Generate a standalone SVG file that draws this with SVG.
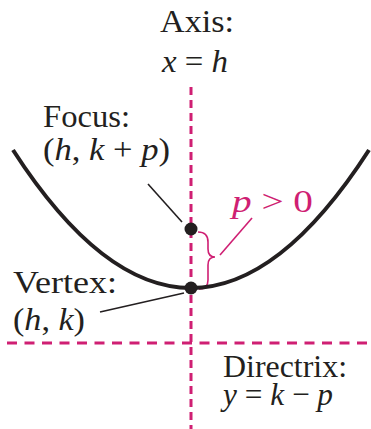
<svg xmlns="http://www.w3.org/2000/svg" width="371" height="429" viewBox="0 0 371 429">
<style>
text{font-family:"Liberation Serif","DejaVu Serif",serif;font-size:32px;fill:#231f20}
.i{font-style:italic}
.m{fill:#cf1f73}
.dash{stroke:#cf1f73;stroke-width:3;fill:none}
.lead{stroke:#231f20;stroke-width:1.6;fill:none}
</style>
<rect width="371" height="429" fill="#ffffff"/>
<g id="connectors">
<line class="dash" x1="191" y1="87" x2="191" y2="429" stroke-dasharray="8 5"/>
<line class="dash" x1="7" y1="343" x2="371" y2="343" stroke-dasharray="10 7.5"/>
<line class="lead" x1="148" y1="184" x2="182" y2="222"/>
<line class="lead" x1="100" y1="312" x2="184" y2="293"/>
<line x1="220" y1="255" x2="252" y2="218" stroke="#cf1f73" stroke-width="1.6"/>
<path d="M198,232 Q208,232 208,242 L208,249 Q208,257 215,257 Q208,257 208,265 L208,280 Q208,289 199,289" fill="none" stroke="#cf1f73" stroke-width="1.6"/>
</g>
<g id="parabola">
<path d="M13,150 Q191,426 369,150" fill="none" stroke="#231f20" stroke-width="4"/>
</g>
<g id="axis-label">
<text x="160" y="32" textLength="74" lengthAdjust="spacingAndGlyphs">Axis:</text>
<text x="162" y="72" textLength="66" lengthAdjust="spacingAndGlyphs"><tspan class="i">x</tspan> = <tspan class="i">h</tspan></text>
</g>
<g id="focus">
<circle cx="191" cy="229" r="6.5" fill="#231f20"/>
<text x="43" y="127" textLength="87" lengthAdjust="spacingAndGlyphs">Focus:</text>
<text x="43" y="160" textLength="127" lengthAdjust="spacingAndGlyphs">(<tspan class="i">h</tspan>, <tspan class="i">k</tspan> + <tspan class="i">p</tspan>)</text>
</g>
<g id="vertex">
<circle cx="191" cy="288" r="6.5" fill="#231f20"/>
<text x="13" y="293" textLength="104" lengthAdjust="spacingAndGlyphs">Vertex:</text>
<text x="13" y="330" textLength="72" lengthAdjust="spacingAndGlyphs">(<tspan class="i">h</tspan>, <tspan class="i">k</tspan>)</text>
</g>
<g id="directrix-label">
<text x="223" y="377" textLength="124" lengthAdjust="spacingAndGlyphs">Directrix:</text>
<text x="223" y="405" textLength="110" lengthAdjust="spacingAndGlyphs"><tspan class="i">y</tspan> = <tspan class="i">k</tspan> − <tspan class="i">p</tspan></text>
</g>
<g id="p-label">
<text class="m" x="232" y="212" textLength="81" lengthAdjust="spacingAndGlyphs"><tspan class="i">p</tspan> &gt; 0</text>
</g>
</svg>
